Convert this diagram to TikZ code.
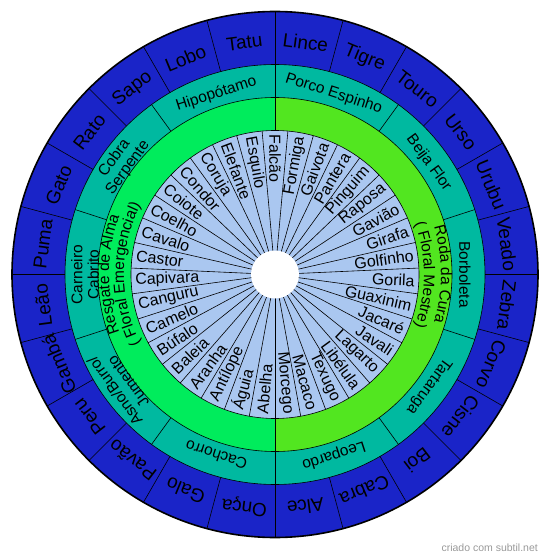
\documentclass[tikz,border=0pt]{standalone}
\usepackage{fontspec}
\setmainfont{Liberation Sans}
\usepackage{tikz}
\usepackage{xcolor}
\usetikzlibrary{decorations.text}

\definecolor{outerblue}{RGB}{26,36,200}
\definecolor{ringteal}{RGB}{0,185,160}
\definecolor{soulgreen}{RGB}{0,236,92}
\definecolor{curegreen}{RGB}{82,230,32}
\definecolor{innerblue}{RGB}{170,199,240}

\begin{document}
\begin{tikzpicture}[x=1pt, y=1pt,
    sep/.style={draw=black, line width=0.6pt},
    outerlbl/.style={font=\fontsize{19}{19}\selectfont, inner sep=0pt},
    ringlbl/.style={font=\fontsize{15.5}{16.5}\selectfont, align=center, inner sep=0pt},
    innerlbl/.style={font=\fontsize{16}{16}\selectfont, inner sep=1pt},
    arclbl/.style={decorate, decoration={text along path, text align=center}}]

    \useasboundingbox (-275,-285.5) rectangle (275,274.5);

    % Outer ring
    \fill[outerblue] (0,0) circle (263);
    \fill[ringteal] (0,0) circle (210);

    % Green ring
    \fill[soulgreen] (0,0) -- (90:177) arc[start angle=90, end angle=270, radius=177] -- cycle;
    \fill[curegreen] (0,0) -- (-90:177) arc[start angle=-90, end angle=90, radius=177] -- cycle;

    % Inner ring
    \fill[innerblue] (0,0) circle (144);

    % Separators
    \foreach \k in {0,...,23}
        \draw[sep] ({90-15*\k}:210) -- ({90-15*\k}:263);
    \foreach \k in {0,...,9}
        \draw[sep] ({90-36*\k}:177) -- ({90-36*\k}:210);
    \draw[sep] (90:144) -- (90:177);
    \draw[sep] (-90:144) -- (-90:177);
    \foreach \k in {0,...,34}
        \draw[sep] ({90-(\k+0.5)*360/35}:20) -- ({90-(\k+0.5)*360/35}:144);
    \draw[sep] (0,0) circle (210);
    \draw[sep] (0,0) circle (177);
    \draw[sep] (0,0) circle (144);
    \draw[black, line width=1.6pt] (0,0) circle (263);

    % Centre
    \fill[white] (0,0) circle (24);

    % Outer labels
    \foreach \name [count=\k from 0] in {Lince,Tigre,Touro,Urso,Urubu,Veado,Zebra,Corvo,Cisne,Boi,Cabra,Alce,Onça,Galo,Pavão,Peru,Gambá,Leão,Puma,Gato,Rato,Sapo,Lobo,Tatu}
        \node[outerlbl, rotate=-7.5-15*\k] (o\k) at ({82.5-15*\k}:234) {\name};

    % Teal labels
    \foreach \name [count=\k from 0] in {Porco Espinho,Beija Flor,Borboleta,Tartaruga,Leopardo,Cachorro,{Asno/Burro/\\Jumento},{Carneiro\\Cabrito},{Cobra\\Serpente},Hipopótamo}
        \node[ringlbl, rotate=-18-36*\k] (t\k) at ({72-36*\k}:190) {\name};

    % Green labels (along the ring)
    \path[arclbl, decoration={text={|\fontsize{15.5}{16}\selectfont|Resgate de Alma}}]
        (225:166) arc[start angle=225, end angle=135, radius=166];
    \path[arclbl, decoration={text={|\fontsize{15.5}{16}\selectfont|( Floral Emergencial)}}]
        (225:151) arc[start angle=225, end angle=135, radius=151];
    \path[arclbl, decoration={text={|\fontsize{15.5}{16}\selectfont|Roda da Cura}}]
        (45:166) arc[start angle=45, end angle=-45, radius=166];
    \path[arclbl, decoration={text={|\fontsize{15.5}{16}\selectfont|( Floral Mestre)}}]
        (45:149) arc[start angle=45, end angle=-45, radius=149];

    % Inner labels
    \foreach \name [count=\k from 1] in {Formiga,Gaivota,Pantera,Pinguim,Raposa,Gavião,Girafa,Golfinho,Gorila,Guaxinim,Jacaré,Javali,Lagarto,Libélula,Texugo,Macaco,Morcego}
        \node[innerlbl, anchor=east, rotate={90-\k*360/35}] (r\k) at ({90-\k*360/35}:141) {\name};
    \foreach \name [count=\k from 18] in {Abelha,Águia,Antílope,Aranha,Baleia,Búfalo,Camelo,Canguru,Capivara,Castor,Cavalo,Coelho,Coiote,Condor,Coruja,Elefante,Esquilo,Falcão}
        \node[innerlbl, anchor=west, rotate={270-\k*360/35}] (l\k) at ({90-\k*360/35}:141) {\name};

    % Credit
    \node[font=\fontsize{10.5}{11}\selectfont, text=black!40, anchor=east, inner sep=0pt] (credit) at (263,-273.5) {criado com subtil.net};
\end{tikzpicture}
\end{document}
